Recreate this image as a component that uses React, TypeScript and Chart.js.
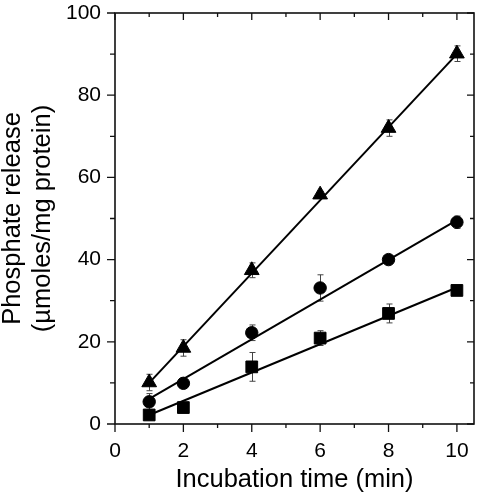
import React, { useEffect, useRef } from 'react';
import { Chart, registerables } from 'chart.js';

Chart.register(...registerables);

// ---- data ----
const times = [1, 2, 4, 6, 8, 10];
const triValues = [10.1, 18.5, 37.4, 55.8, 72.0, 90.1];
const triErrors = [2.0, 2.0, 1.8, 0.8, 2.0, 1.9];
const circleValues = [5.4, 9.9, 22.2, 33.1, 40.0, 49.1];
const circleErrors = [2.0, 0.6, 1.9, 3.2, 0.8, 1.5];
const squareValues = [2.2, 4.0, 13.9, 20.9, 26.9, 32.5];
const squareErrors = [0.5, 0.5, 3.5, 1.8, 2.3, 1.0];

const fitTimes = [1, 10];
const triFit = [10.0, 90.0];
const circleFit = [6.1, 49.6];
const squareFit = [2.2, 33.2];

const xTicks = [0, 2, 4, 6, 8, 10];
const xMinorTicks = [1, 3, 5, 7, 9];
const yTicks = [0, 20, 40, 60, 80, 100];
const yMinorTicks = [10, 30, 50, 70, 90];

const xTitle = 'Incubation time (min)';
const yTitle = ['Phosphate release', '(\u00B5moles/mg protein)'];

const FONT = "'Liberation Sans', Arial, Helvetica, sans-serif";
const PLOT_RIGHT_GAP = 4;

const toPoints = (xs: number[], ys: number[]) => xs.map((x, i) => ({ x, y: ys[i] }));

const errorSets = [
  { values: triValues, errors: triErrors },
  { values: circleValues, errors: circleErrors },
  { values: squareValues, errors: squareErrors },
];

// keep the plot frame 4px from the right edge (chart.js reserves label room otherwise)
const areaPlugin = {
  id: 'areaFix',
  afterLayout(chart: any) {
    const xs = chart.scales.x;
    const ca = chart.chartArea;
    const R = chart.width - PLOT_RIGHT_GAP;
    ca.right = R;
    ca.width = R - ca.left;
    xs.right = R;
    xs.width = R - xs.left;
    xs.configure();
  },
};

const errorBarPlugin = {
  id: 'errorBars',
  beforeDatasetsDraw(chart: any) {
    const { ctx, scales } = chart;
    const xs = scales.x;
    const ys = scales.y;
    ctx.save();
    ctx.strokeStyle = '#444';
    ctx.lineWidth = 1;
    errorSets.forEach((s) => {
      times.forEach((t, i) => {
        const px = Math.round(xs.getPixelForValue(t)) + 0.5;
        const top = ys.getPixelForValue(s.values[i] + s.errors[i]);
        const bot = ys.getPixelForValue(s.values[i] - s.errors[i]);
        ctx.beginPath();
        ctx.moveTo(px, top);
        ctx.lineTo(px, bot);
        ctx.moveTo(px - 3, top);
        ctx.lineTo(px + 3, top);
        ctx.moveTo(px - 3, bot);
        ctx.lineTo(px + 3, bot);
        ctx.stroke();
      });
    });
    ctx.restore();
  },
};

const framePlugin = {
  id: 'frameTicks',
  afterDatasetsDraw(chart: any) {
    const { ctx, chartArea, scales } = chart;
    const { left, right, top, bottom } = chartArea;
    const xs = scales.x;
    const ys = scales.y;
    ctx.save();
    ctx.strokeStyle = '#111';
    ctx.lineWidth = 1.6;
    ctx.strokeRect(left, top, right - left, bottom - top);
    ctx.lineWidth = 1.3;
    ctx.beginPath();
    const major = 8;
    const minor = 4;
    xTicks.forEach((v) => {
      const p = xs.getPixelForValue(v);
      ctx.moveTo(p, bottom);
      ctx.lineTo(p, bottom + major);
      ctx.moveTo(p, top);
      ctx.lineTo(p, top + major - 1);
    });
    xMinorTicks.forEach((v) => {
      const p = xs.getPixelForValue(v);
      ctx.moveTo(p, bottom);
      ctx.lineTo(p, bottom + minor);
      ctx.moveTo(p, top);
      ctx.lineTo(p, top + minor);
    });
    yTicks.forEach((v) => {
      const p = ys.getPixelForValue(v);
      ctx.moveTo(left, p);
      ctx.lineTo(left - major, p);
      ctx.moveTo(right, p);
      ctx.lineTo(right - major + 1, p);
    });
    yMinorTicks.forEach((v) => {
      const p = ys.getPixelForValue(v);
      ctx.moveTo(left, p);
      ctx.lineTo(left - minor - 1, p);
      ctx.moveTo(right, p);
      ctx.lineTo(right - minor, p);
    });
    ctx.stroke();
    ctx.restore();
  },
};

export default function App() {
  const ref = useRef<HTMLCanvasElement | null>(null);

  useEffect(() => {
    if (!ref.current) return;
    const markerBase = {
      showLine: false,
      backgroundColor: '#000',
      borderColor: '#000',
      borderWidth: 1,
    };
    const lineBase = {
      showLine: true,
      borderColor: '#000',
      borderWidth: 2,
      pointRadius: 0,
      fill: false,
    };
    const chart = new Chart(ref.current, {
      type: 'scatter',
      data: {
        datasets: [
          { ...lineBase, label: 'fit-tri', data: toPoints(fitTimes, triFit) },
          { ...lineBase, label: 'fit-circle', data: toPoints(fitTimes, circleFit) },
          { ...lineBase, label: 'fit-square', data: toPoints(fitTimes, squareFit) },
          { ...markerBase, label: 'triangle', data: toPoints(times, triValues), pointStyle: 'triangle', pointRadius: 8.5 },
          { ...markerBase, label: 'circle', data: toPoints(times, circleValues), pointStyle: 'circle', pointRadius: 6.2 },
          { ...markerBase, label: 'square', data: toPoints(times, squareValues), pointStyle: 'rect', pointRadius: 8.3 },
        ],
      } as any,
      options: {
        animation: false,
        responsive: false,
        maintainAspectRatio: false,
        layout: { padding: { left: 0, right: PLOT_RIGHT_GAP, top: 13, bottom: 0 } },
        plugins: { legend: { display: false }, tooltip: { enabled: false } },
        scales: {
          x: {
            type: 'linear',
            min: 0,
            max: 10.5,
            afterBuildTicks: (s: any) => {
              s.ticks = xTicks.map((v) => ({ value: v }));
            },
            afterFit: (s: any) => {
              s.height = 72;
              s.paddingLeft = 0;
              s.paddingRight = 0;
            },
            grid: { display: false, drawTicks: false },
            border: { display: false },
            ticks: {
              padding: 15,
              color: '#000',
              maxRotation: 0,
              font: { family: FONT, size: 21 },
            },
            title: {
              display: true,
              text: xTitle,
              color: '#000',
              font: { family: FONT, size: 25.5, lineHeight: 1.17 },
              padding: { top: 0, bottom: 1 },
            },
          },
          y: {
            type: 'linear',
            min: 0,
            max: 100,
            afterBuildTicks: (s: any) => {
              s.ticks = yTicks.map((v) => ({ value: v }));
            },
            afterFit: (s: any) => {
              s.width = 115;
              s.paddingTop = 0;
              s.paddingBottom = 0;
            },
            grid: { display: false, drawTicks: false },
            border: { display: false },
            ticks: {
              padding: 14,
              color: '#000',
              font: { family: FONT, size: 21 },
            },
            title: {
              display: true,
              text: yTitle,
              color: '#000',
              font: { family: FONT, size: 25.5, lineHeight: 1.17 },
              padding: { top: -2, bottom: 0 },
            },
          },
        },
      } as any,
      plugins: [areaPlugin, errorBarPlugin, framePlugin],
    });
    return () => chart.destroy();
  }, []);

  return (
    <div style={{ position: 'fixed', left: 0, top: 0, width: 478, height: 496, background: '#fff' }}>
      <canvas ref={ref} width={478} height={496} style={{ display: 'block', width: 478, height: 496 }} />
    </div>
  );
}
